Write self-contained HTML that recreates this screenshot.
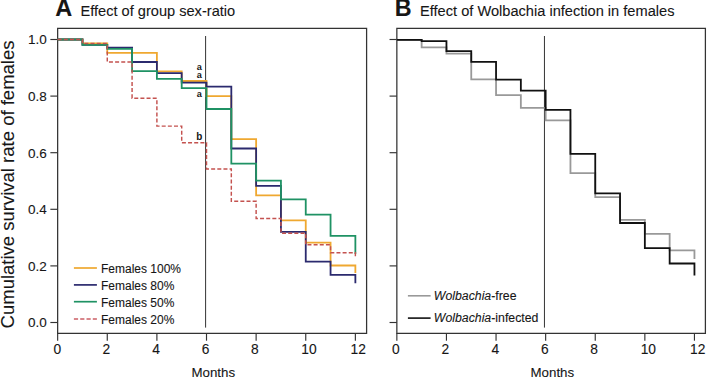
<!DOCTYPE html>
<html><head><meta charset="utf-8"><style>
html,body{margin:0;padding:0;background:#fff;}
svg{display:block;}
text{font-family:"Liberation Sans",sans-serif;fill:#161616;stroke:#161616;stroke-width:0.1px;}
</style></head><body>
<svg width="707" height="378" viewBox="0 0 707 378">
<rect width="707" height="378" fill="#fff"/>
<text x="55.3" y="16.3" font-size="23.5" font-weight="bold">A</text>
<text x="80.5" y="16.4" font-size="14.6">Effect of group sex-ratio</text>
<text x="394.7" y="16.3" font-size="23.3" font-weight="bold">B</text>
<text x="420.0" y="16.4" font-size="14.62">Effect of Wolbachia infection in females</text>
<text transform="translate(14.4,328.4) rotate(-90)" font-size="18.5">Cumulative survival rate of females</text>
<path d="M57.65,28.4 H366.60 V333.3 H57.65 Z" fill="none" stroke="#333333" stroke-width="1.25"/>
<line x1="50.35" y1="322.50" x2="57.65" y2="322.50" stroke="#333333" stroke-width="1.15"/>
<text x="46.75" y="327.30" font-size="13.5" text-anchor="end">0.0</text>
<line x1="50.35" y1="265.90" x2="57.65" y2="265.90" stroke="#333333" stroke-width="1.15"/>
<text x="46.75" y="270.70" font-size="13.5" text-anchor="end">0.2</text>
<line x1="50.35" y1="209.30" x2="57.65" y2="209.30" stroke="#333333" stroke-width="1.15"/>
<text x="46.75" y="214.10" font-size="13.5" text-anchor="end">0.4</text>
<line x1="50.35" y1="152.70" x2="57.65" y2="152.70" stroke="#333333" stroke-width="1.15"/>
<text x="46.75" y="157.50" font-size="13.5" text-anchor="end">0.6</text>
<line x1="50.35" y1="96.10" x2="57.65" y2="96.10" stroke="#333333" stroke-width="1.15"/>
<text x="46.75" y="100.90" font-size="13.5" text-anchor="end">0.8</text>
<line x1="50.35" y1="39.50" x2="57.65" y2="39.50" stroke="#333333" stroke-width="1.15"/>
<text x="46.75" y="44.30" font-size="13.5" text-anchor="end">1.0</text>
<line x1="57.65" y1="333.3" x2="57.65" y2="340.7" stroke="#333333" stroke-width="1.15"/>
<text x="57.30" y="353.8" font-size="13.8" text-anchor="middle">0</text>
<line x1="107.27" y1="333.3" x2="107.27" y2="340.7" stroke="#333333" stroke-width="1.15"/>
<text x="106.40" y="353.8" font-size="13.8" text-anchor="middle">2</text>
<line x1="156.89" y1="333.3" x2="156.89" y2="340.7" stroke="#333333" stroke-width="1.15"/>
<text x="156.20" y="353.8" font-size="13.8" text-anchor="middle">4</text>
<line x1="206.51" y1="333.3" x2="206.51" y2="340.7" stroke="#333333" stroke-width="1.15"/>
<text x="205.55" y="353.8" font-size="13.8" text-anchor="middle">6</text>
<line x1="256.13" y1="333.3" x2="256.13" y2="340.7" stroke="#333333" stroke-width="1.15"/>
<text x="254.90" y="353.8" font-size="13.8" text-anchor="middle">8</text>
<line x1="305.75" y1="333.3" x2="305.75" y2="340.7" stroke="#333333" stroke-width="1.15"/>
<text x="309.05" y="353.8" font-size="13.8" text-anchor="middle">10</text>
<line x1="355.37" y1="333.3" x2="355.37" y2="340.7" stroke="#333333" stroke-width="1.15"/>
<text x="358.25" y="353.8" font-size="13.8" text-anchor="middle">12</text>
<text x="213.32" y="376.9" font-size="13.3" text-anchor="middle">Months</text>
<path d="M396.85,28.4 H705.40 V333.3 H396.85 Z" fill="none" stroke="#333333" stroke-width="1.25"/>
<line x1="389.55" y1="322.50" x2="396.85" y2="322.50" stroke="#333333" stroke-width="1.15"/>
<line x1="389.55" y1="265.90" x2="396.85" y2="265.90" stroke="#333333" stroke-width="1.15"/>
<line x1="389.55" y1="209.30" x2="396.85" y2="209.30" stroke="#333333" stroke-width="1.15"/>
<line x1="389.55" y1="152.70" x2="396.85" y2="152.70" stroke="#333333" stroke-width="1.15"/>
<line x1="389.55" y1="96.10" x2="396.85" y2="96.10" stroke="#333333" stroke-width="1.15"/>
<line x1="389.55" y1="39.50" x2="396.85" y2="39.50" stroke="#333333" stroke-width="1.15"/>
<line x1="396.85" y1="333.3" x2="396.85" y2="340.7" stroke="#333333" stroke-width="1.15"/>
<text x="395.85" y="353.8" font-size="13.8" text-anchor="middle">0</text>
<line x1="446.45" y1="333.3" x2="446.45" y2="340.7" stroke="#333333" stroke-width="1.15"/>
<text x="445.30" y="353.8" font-size="13.8" text-anchor="middle">2</text>
<line x1="496.05" y1="333.3" x2="496.05" y2="340.7" stroke="#333333" stroke-width="1.15"/>
<text x="495.30" y="353.8" font-size="13.8" text-anchor="middle">4</text>
<line x1="545.65" y1="333.3" x2="545.65" y2="340.7" stroke="#333333" stroke-width="1.15"/>
<text x="544.75" y="353.8" font-size="13.8" text-anchor="middle">6</text>
<line x1="595.25" y1="333.3" x2="595.25" y2="340.7" stroke="#333333" stroke-width="1.15"/>
<text x="594.10" y="353.8" font-size="13.8" text-anchor="middle">8</text>
<line x1="644.85" y1="333.3" x2="644.85" y2="340.7" stroke="#333333" stroke-width="1.15"/>
<text x="648.35" y="353.8" font-size="13.8" text-anchor="middle">10</text>
<line x1="694.45" y1="333.3" x2="694.45" y2="340.7" stroke="#333333" stroke-width="1.15"/>
<text x="697.65" y="353.8" font-size="13.8" text-anchor="middle">12</text>
<text x="552.33" y="376.9" font-size="13.3" text-anchor="middle">Months</text>
<line x1="205.6" y1="36" x2="205.6" y2="327.6" stroke="#333333" stroke-width="1"/>
<line x1="544.45" y1="36" x2="544.45" y2="327.6" stroke="#333333" stroke-width="1"/>
<polyline points="57.65,39.50 82.46,39.50 82.46,43.50 107.27,43.50 107.27,52.90 132.08,52.90 132.08,52.90 156.89,52.90 156.89,71.40 181.70,71.40 181.70,81.00 206.51,81.00 206.51,96.10 231.32,96.10 231.32,139.20 256.13,139.20 256.13,195.30 280.94,195.30 280.94,220.40 305.75,220.40 305.75,242.60 330.56,242.60 330.56,265.50 355.37,265.50 355.37,272.90" fill="none" stroke="#EFA830" stroke-width="1.8" stroke-linejoin="miter" stroke-linecap="butt"/>
<polyline points="57.65,39.50 82.46,39.50 82.46,44.90 107.27,44.90 107.27,47.60 132.08,47.60 132.08,62.00 156.89,62.00 156.89,73.20 181.70,73.20 181.70,82.60 206.51,82.60 206.51,86.60 231.32,86.60 231.32,148.50 256.13,148.50 256.13,185.90 280.94,185.90 280.94,231.80 305.75,231.80 305.75,261.70 330.56,261.70 330.56,274.80 355.37,274.80 355.37,283.20" fill="none" stroke="#2B2A6E" stroke-width="1.8" stroke-linejoin="miter" stroke-linecap="butt"/>
<polyline points="57.65,39.50 82.46,39.50 82.46,44.90 107.27,44.90 107.27,48.90 132.08,48.90 132.08,71.20 156.89,71.20 156.89,78.80 181.70,78.80 181.70,88.10 206.51,88.10 206.51,109.00 231.32,109.00 231.32,163.70 256.13,163.70 256.13,180.60 280.94,180.60 280.94,199.30 305.75,199.30 305.75,214.60 330.56,214.60 330.56,235.80 355.37,235.80 355.37,254.00" fill="none" stroke="#1F9264" stroke-width="1.8" stroke-linejoin="miter" stroke-linecap="butt"/>
<polyline points="57.65,39.50 82.46,39.50 82.46,43.50 107.27,43.50 107.27,62.00 132.08,62.00 132.08,98.20 156.89,98.20 156.89,126.10 181.70,126.10 181.70,142.80 206.51,142.80 206.51,168.90 231.32,168.90 231.32,201.20 256.13,201.20 256.13,218.40 280.94,218.40 280.94,233.30 305.75,233.30 305.75,244.80 330.56,244.80 330.56,252.70 355.37,252.70 355.37,256.70" fill="none" stroke="#C4524F" stroke-width="1.45" stroke-linejoin="miter" stroke-linecap="butt" stroke-dasharray="4 2.15"/>
<polyline points="396.85,39.80 421.65,39.80 421.65,47.30 446.45,47.30 446.45,53.70 471.25,53.70 471.25,79.40 496.05,79.40 496.05,95.20 520.85,95.20 520.85,107.80 545.65,107.80 545.65,120.40 570.45,120.40 570.45,173.10 595.25,173.10 595.25,197.20 620.05,197.20 620.05,219.90 644.85,219.90 644.85,233.90 669.65,233.90 669.65,250.30 694.45,250.30 694.45,258.90" fill="none" stroke="#999999" stroke-width="1.8" stroke-linejoin="miter" stroke-linecap="butt"/>
<polyline points="396.85,39.80 421.65,39.80 421.65,41.10 446.45,41.10 446.45,51.10 471.25,51.10 471.25,61.80 496.05,61.80 496.05,79.60 520.85,79.60 520.85,90.60 545.65,90.60 545.65,109.80 570.45,109.80 570.45,153.90 595.25,153.90 595.25,193.40 620.05,193.40 620.05,223.00 644.85,223.00 644.85,248.10 669.65,248.10 669.65,263.50 694.45,263.50 694.45,275.50" fill="none" stroke="#111111" stroke-width="1.8" stroke-linejoin="miter" stroke-linecap="butt"/>
<text x="199.3" y="70.3" font-size="9.2" font-weight="bold" text-anchor="middle" style="stroke:none">a</text>
<text x="199.3" y="78.3" font-size="9.2" font-weight="bold" text-anchor="middle" style="stroke:none">a</text>
<text x="199.3" y="96.6" font-size="9.2" font-weight="bold" text-anchor="middle" style="stroke:none">a</text>
<text x="199.3" y="139.8" font-size="10" font-weight="bold" text-anchor="middle" style="stroke:none">b</text>
<line x1="73.9" y1="268.0" x2="96.9" y2="268.0" stroke="#EFA830" stroke-width="1.7"/>
<text x="101" y="272.9" font-size="12">Females 100%</text>
<line x1="73.9" y1="284.9" x2="96.9" y2="284.9" stroke="#2B2A6E" stroke-width="1.7"/>
<text x="101" y="289.8" font-size="12">Females 80%</text>
<line x1="73.9" y1="301.7" x2="96.9" y2="301.7" stroke="#1F9264" stroke-width="1.7"/>
<text x="101" y="306.6" font-size="12">Females 50%</text>
<line x1="73.9" y1="318.9" x2="96.9" y2="318.9" stroke="#CC5F66" stroke-width="1.5" stroke-dasharray="4.2 2.1"/>
<text x="101" y="323.8" font-size="12">Females 20%</text>
<line x1="407.9" y1="295.8" x2="430.6" y2="295.8" stroke="#999999" stroke-width="1.6"/>
<text x="433.8" y="300.4" font-size="12.3"><tspan font-style="italic">Wolbachia</tspan>-free</text>
<line x1="407.9" y1="318.1" x2="430.6" y2="318.1" stroke="#111111" stroke-width="1.6"/>
<text x="433.8" y="322.4" font-size="12.3"><tspan font-style="italic">Wolbachia</tspan>-infected</text>
</svg></body></html>
